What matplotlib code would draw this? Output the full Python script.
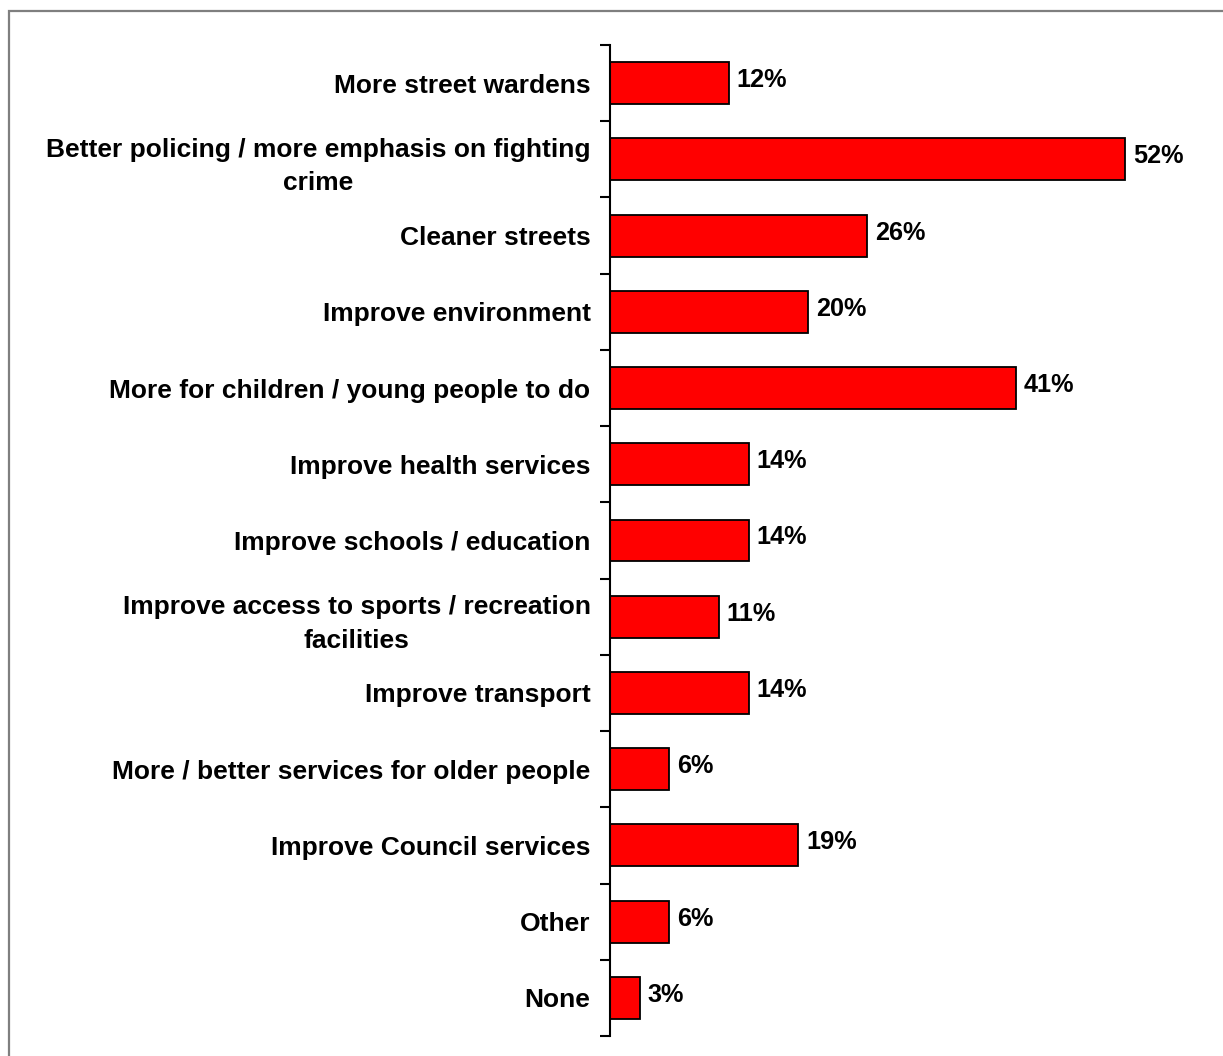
import matplotlib
matplotlib.use("Agg")
import matplotlib.pyplot as plt
import matplotlib.patches as mpatches
import numpy as np

categories = [
    "More street wardens",
    "Better policing / more emphasis on fighting\ncrime",
    "Cleaner streets",
    "Improve environment",
    "More for children / young people to do",
    "Improve health services",
    "Improve schools / education",
    "Improve access to sports / recreation\nfacilities",
    "Improve transport",
    "More / better services for older people",
    "Improve Council services",
    "Other",
    "None",
]
values = [12, 52, 26, 20, 41, 14, 14, 11, 14, 6, 19, 6, 3]

plt.rcParams['font.family'] = ['Liberation Sans', 'DejaVu Sans']
plt.rcParams['font.weight'] = 'bold'

fig = plt.figure(figsize=(12.23, 10.56), dpi=100)
ax = fig.add_axes([610 / 1223, 1 - 1036 / 1056, 600 / 1223, 991 / 1056])

# grey frame around the chart (only left/top visible in the original)
fig.patches.append(mpatches.Rectangle((8.5 / 1223, -0.1), 1.2, 1 - 11 / 1056 + 0.1,
                                      transform=fig.transFigure, fill=False,
                                      edgecolor='#7f7f7f', linewidth=1.6))

y = np.arange(len(categories))
ax.barh(y, values, height=0.55, color='#ff0000', edgecolor='black', linewidth=1.3)

for yi, v in zip(y, values):
    ax.text(v + 0.8, yi - 0.04, f"{v}%", va='center', ha='left',
            fontsize=18.2, fontweight='bold')

ax.set_xlim(0, 60.6)
ax.set_ylim(len(categories) - 0.5, -0.5)

ax.set_yticks(y)
ax.set_yticklabels(categories, fontsize=19, fontweight='bold')
for t in ax.get_yticklabels():
    t.set_multialignment('center')
    t.set_linespacing(1.5)
ax.set_yticks(np.arange(len(categories) + 1) - 0.5, minor=True)
ax.tick_params(axis='y', which='major', length=0, pad=14)
ax.tick_params(axis='y', which='minor', length=7, width=1.5, direction='out')

ax.set_xticks([])
for side in ['top', 'right', 'bottom']:
    ax.spines[side].set_visible(False)
ax.spines['left'].set_linewidth(1.5)

fig.savefig('out.png', dpi=100)
plt.close(fig)
